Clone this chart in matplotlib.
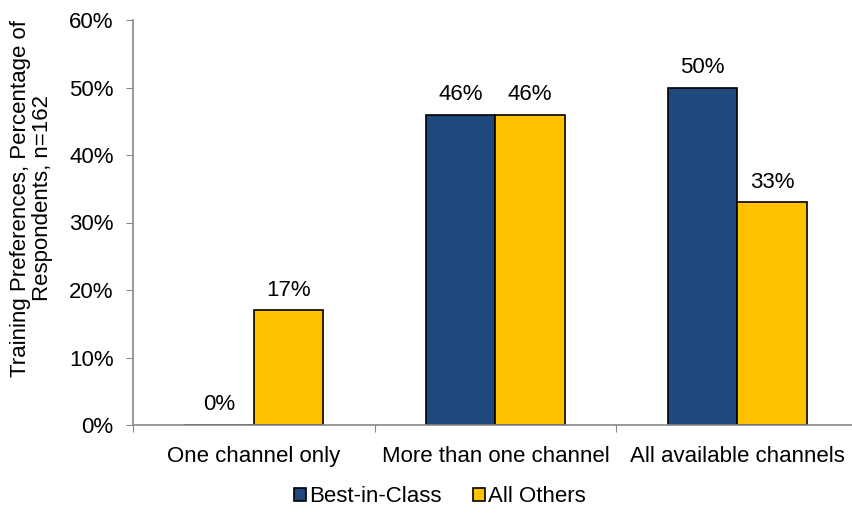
import numpy as np
import matplotlib.pyplot as plt

plt.rcParams['font.family'] = ['Liberation Sans', 'DejaVu Sans']

categories = ['One channel only', 'More than one channel', 'All available channels']
best_in_class = [0, 46, 50]
all_others = [17, 46, 33]
series_names = ['Best-in-Class', 'All Others']
colors = ['#1F497D', '#FFC000']

fs = 16
fig = plt.figure(figsize=(8.53, 5.13), dpi=100)
ax = fig.add_axes([133/853, 1-425/513, 725/853, 405/513])

x = np.arange(len(categories))
w = 0.2875
b1 = ax.bar(x - w/2, best_in_class, w, color=colors[0], edgecolor='black', linewidth=1.2, label=series_names[0])
b2 = ax.bar(x + w/2, all_others, w, color=colors[1], edgecolor='black', linewidth=1.2, label=series_names[1])

for bars in (b1, b2):
    for r in bars:
        h = r.get_height()
        ax.annotate('%d%%' % h, (r.get_x() + r.get_width()/2, h), xytext=(0, 7),
                    textcoords='offset points', ha='center', va='bottom', fontsize=fs)

ax.set_xlim(-0.5, 2.5)
ax.set_ylim(0, 60)
ax.set_yticks(range(0, 61, 10))
ax.set_yticklabels(['%d%%' % v for v in range(0, 61, 10)])
ax.set_xticks([-0.5, 0.5, 1.5, 2.5])
ax.set_xticklabels([])
ax.set_xticks(x, minor=True)
ax.set_xticklabels(categories, minor=True)
ax.tick_params(axis='x', which='minor', length=0, pad=15, labelsize=fs)
ax.tick_params(axis='x', which='major', length=5, color='#888888', direction='out')
ax.tick_params(axis='y', length=5, color='#888888', labelsize=fs, pad=9)

for s in ['top', 'right']:
    ax.spines[s].set_visible(False)
for s in ['left', 'bottom']:
    ax.spines[s].set_color('#888888')
    ax.spines[s].set_linewidth(1.2)

ax.set_ylabel('Training Preferences, Percentage of\nRespondents, n=162', fontsize=fs,
              linespacing=1.05)
ax.yaxis.set_label_coords(-0.11, 0.56)

fig.legend(loc='center', bbox_to_anchor=(440/853, 1-497/513), ncol=2, frameon=False,
           fontsize=fs, handlelength=0.55, handleheight=0.55, handletextpad=0.15, columnspacing=1.4)

fig.savefig('out.png', dpi=100)
